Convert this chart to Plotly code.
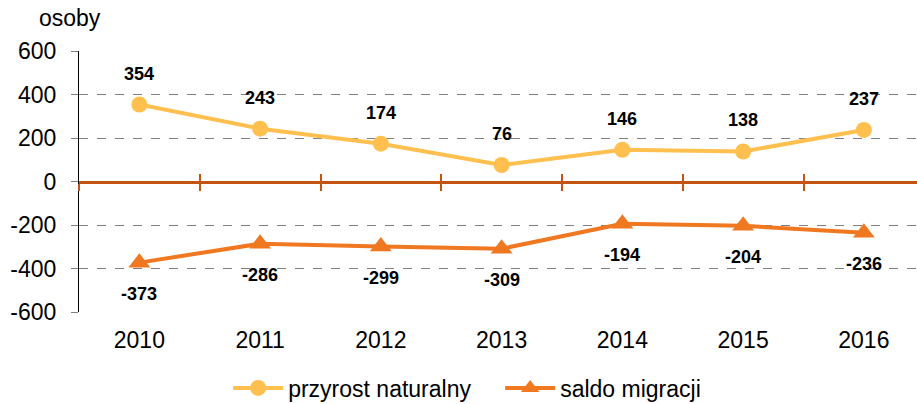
import plotly.graph_objects as go

years = ["2010", "2011", "2012", "2013", "2014", "2015", "2016"]
przyrost = [354, 243, 174, 76, 146, 138, 237]
saldo = [-373, -286, -299, -309, -194, -204, -236]
y_ticks = [-600, -400, -200, 0, 200, 400, 600]
y_ticktext = ["-600", "-400", "-200", "0", "200", "400", "600"]
name_p = "przyrost naturalny"
name_s = "saldo migracji"
unit = "osoby"

FONT = "Liberation Sans, Arial, sans-serif"
C_P = "#FFC04F"
C_S = "#F07820"
C_ZERO = "#C4540F"

idx = list(range(len(years)))
xr = [-0.5, 6.44]

fig = go.Figure()
fig.add_trace(go.Scatter(x=idx, y=przyrost, mode="lines+markers", name=name_p,
                         line=dict(color=C_P, width=4),
                         marker=dict(symbol="circle", size=16, color=C_P)))
fig.add_trace(go.Scatter(x=idx, y=saldo, mode="lines+markers", name=name_s,
                         line=dict(color=C_S, width=4),
                         marker=dict(symbol="triangle-up", size=19, color=C_S)))
# invisible helpers for zero-line axes
bounds = [i + 0.5 for i in idx[:-1]] + [-0.5]
fig.add_trace(go.Scatter(x=bounds, y=[0] * len(bounds), xaxis="x2", mode="markers",
                         marker=dict(opacity=0), showlegend=False, hoverinfo="skip"))
fig.add_trace(go.Scatter(x=bounds, y=[0] * len(bounds), xaxis="x3", mode="markers",
                         marker=dict(opacity=0), showlegend=False, hoverinfo="skip"))

for i, v in zip(idx, przyrost):
    fig.add_annotation(x=i, y=v, text="<b>%d</b>" % v, showarrow=False, yshift=31,
                       font=dict(family=FONT, size=18, color="#000"))
for i, v in zip(idx, saldo):
    fig.add_annotation(x=i, y=v, text="<b>%d</b>" % v, showarrow=False, yshift=-31,
                       font=dict(family=FONT, size=18, color="#000"))

fig.add_annotation(xref="paper", yref="paper", x=0.029, y=1.0, yshift=18, text=unit,
                   showarrow=False, xanchor="right", yanchor="bottom",
                   font=dict(family=FONT, size=23, color="#000"))

axis_common = dict(range=xr, showgrid=False, zeroline=False, showticklabels=False,
                   tickmode="array", tickvals=bounds, overlaying="x", anchor="free",
                   position=0.5, showline=True, linecolor=C_ZERO, linewidth=3,
                   tickcolor=C_ZERO, tickwidth=2, ticklen=7, automargin=False)

fig.update_layout(
    width=917, height=404,
    margin=dict(l=79, r=0, t=51, b=92, autoexpand=False),
    paper_bgcolor="white", plot_bgcolor="white",
    font=dict(family=FONT, size=23, color="#000"),
    xaxis=dict(range=xr, tickmode="array", tickvals=idx, ticktext=years,
               showgrid=False, zeroline=False, showline=False, ticks="",
               ticklabelstandoff=12, tickfont=dict(size=23), automargin=False),
    xaxis2=dict(axis_common, ticks="outside", side="bottom"),
    xaxis3=dict(axis_common, ticks="inside", side="bottom"),
    yaxis=dict(range=[-600, 600], tickmode="array", tickvals=y_ticks,
               ticktext=y_ticktext, showgrid=True,
               gridcolor="#808080", griddash="dash", gridwidth=1,
               zeroline=False, showline=True, linecolor="#000", linewidth=1,
               ticks="outside", ticklen=7, tickcolor="#808080",
               ticklabelstandoff=10, tickfont=dict(size=23), automargin=False),
    legend=dict(orientation="h", x=0.178, xanchor="left", y=-0.291, yanchor="middle",
                font=dict(size=23), itemwidth=50, entrywidth=207,
                entrywidthmode="pixels", tracegroupgap=0),
    showlegend=True,
)

fig.write_html("out.html", post_script="document.body.style.margin='0';",
               config={"displayModeBar": False})
